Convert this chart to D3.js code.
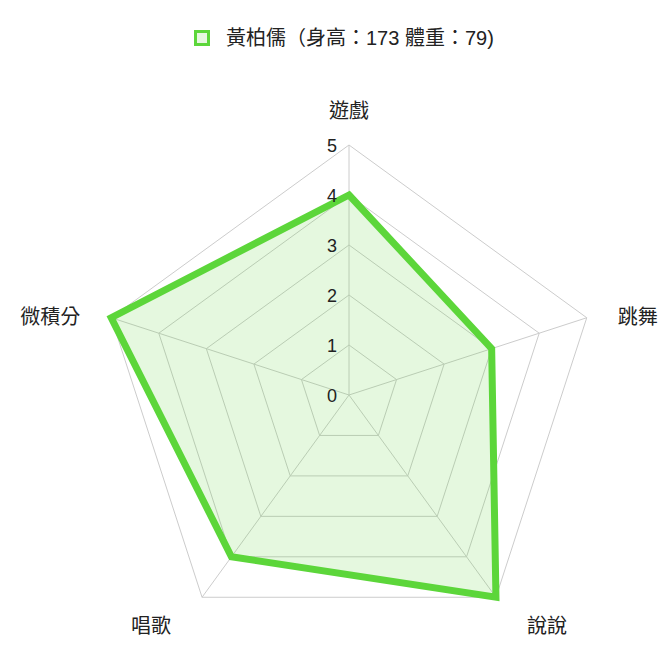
<!DOCTYPE html>
<html>
<head>
<meta charset="utf-8">
<script src="https://cdn.jsdelivr.net/npm/d3@7"></script>
<style>
html,body{margin:0;padding:0;background:#fff;}
svg{display:block;}
text{font-family:"Liberation Sans","Noto Sans CJK TC",sans-serif;fill:#222;}
</style>
</head>
<body>
<svg id="chart" width="669" height="652"></svg>
<script>
const categories = ["遊戲", "跳舞", "說說", "唱歌", "微積分"];
const values = [4, 3, 5, 4, 5];
const seriesLabel = "黃柏儒（身高：173 體重：79)";
const tickValues = [0, 1, 2, 3, 4, 5];

const svg = d3.select("#chart");
const cx = 349, cy = 395, R = 250;
const r = d3.scaleLinear().domain([0, 5]).range([0, R]);
const n = categories.length;
const angle = i => -Math.PI / 2 + i * 2 * Math.PI / n;
const pt = (i, v) => [cx + r(v) * Math.cos(angle(i)), cy + r(v) * Math.sin(angle(i))];

const green = "#5cd63a";
const fill = "rgba(92,214,58,0.16)";
const grid = "#cccccc";

// grid polygons
const g = svg.append("g");
tickValues.filter(t => t > 0).forEach(t => {
  g.append("polygon")
    .attr("points", categories.map((c, i) => pt(i, t).join(",")).join(" "))
    .attr("fill", "none").attr("stroke", grid).attr("stroke-width", 1);
});
// angle lines
categories.forEach((c, i) => {
  const p = pt(i, 5);
  g.append("line").attr("x1", cx).attr("y1", cy).attr("x2", p[0]).attr("y2", p[1])
    .attr("stroke", grid).attr("stroke-width", 1);
});

// data
const line = d3.line().curve(d3.curveLinearClosed);
const pts = values.map((v, i) => pt(i, v));
svg.append("path").attr("d", line(pts))
  .attr("fill", fill).attr("stroke", "none");
svg.append("path").attr("d", line(pts))
  .attr("fill", "none").attr("stroke", green).attr("stroke-width", 7)
  .attr("stroke-linejoin", "miter");

// tick labels
tickValues.forEach(t => {
  svg.append("text").attr("x", cx - 12).attr("y", cy - r(t) + 1)
    .attr("text-anchor", "end").attr("dominant-baseline", "central")
    .attr("font-size", 18).text(t);
});

// point labels
const pad = 31;
categories.forEach((c, i) => {
  const p = pt(i, 5);
  const a = angle(i);
  const cosA = Math.cos(a), sinA = Math.sin(a);
  let x, y, anchor;
  if (Math.abs(cosA) < 0.01) { x = p[0]; y = p[1] - 34; anchor = "middle"; }
  else if (sinA > 0.5) { // bottom
    x = p[0] + (cosA > 0 ? pad : -pad); y = p[1] + 29; anchor = cosA > 0 ? "start" : "end";
  } else {
    x = p[0] + (cosA > 0 ? pad : -pad); y = p[1] - 1; anchor = cosA > 0 ? "start" : "end";
  }
  svg.append("text").attr("x", x).attr("y", y)
    .attr("text-anchor", anchor).attr("dominant-baseline", "central")
    .attr("font-size", 20).text(c);
});

// legend
const lg = svg.append("g");
lg.append("rect").attr("x", 195.5).attr("y", 31.5).attr("width", 13).attr("height", 13)
  .attr("fill", "#e6f7e0").attr("stroke", green).attr("stroke-width", 3);
lg.append("text").attr("x", 226).attr("y", 38).attr("dominant-baseline", "central")
  .attr("font-size", 20).text(seriesLabel);
</script>
</body>
</html>
